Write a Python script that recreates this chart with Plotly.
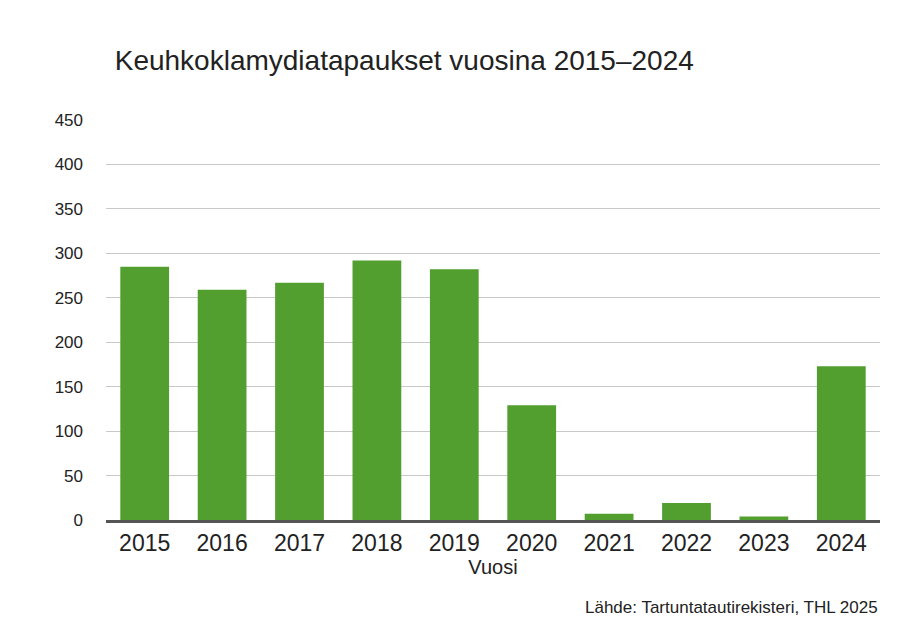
import plotly.graph_objects as go

years = ["2015","2016","2017","2018","2019","2020","2021","2022","2023","2024"]
cases = [285, 259, 267, 292, 282, 129, 7, 19, 4, 173]

fig = go.Figure(go.Bar(x=years, y=cases, marker_color="#529e2f", marker_line_width=0))
fig.update_layout(
    width=920, height=629, plot_bgcolor="white", paper_bgcolor="white",
    font=dict(family="Liberation Sans, Arial, sans-serif", color="#222"),
    title=dict(text="Keuhkoklamydiatapaukset vuosina 2015–2024", x=0.116, y=0.917,
               xanchor="left", yanchor="middle", font=dict(size=28, color="#222")),
    margin=dict(l=98, r=48, t=112, b=117, autoexpand=False),
    bargap=0.37, showlegend=False,
    annotations=[dict(text="Lähde: Tartuntatautirekisteri, THL 2025", xref="paper", yref="paper",
                      x=1, y=-0.19, xanchor="right", yanchor="top", showarrow=False,
                      font=dict(size=17, color="#222"))],
)
fig.update_yaxes(range=[0, 450], dtick=50, gridcolor="#c8c8c8", gridwidth=1,
                 tickfont=dict(size=17), ticklabelstandoff=22, zeroline=False)
fig.update_xaxes(showline=True, linecolor="#555", linewidth=3, tickfont=dict(size=23),
                 title=dict(text="Vuosi", font=dict(size=20), standoff=4))
fig.write_html("out.html")
